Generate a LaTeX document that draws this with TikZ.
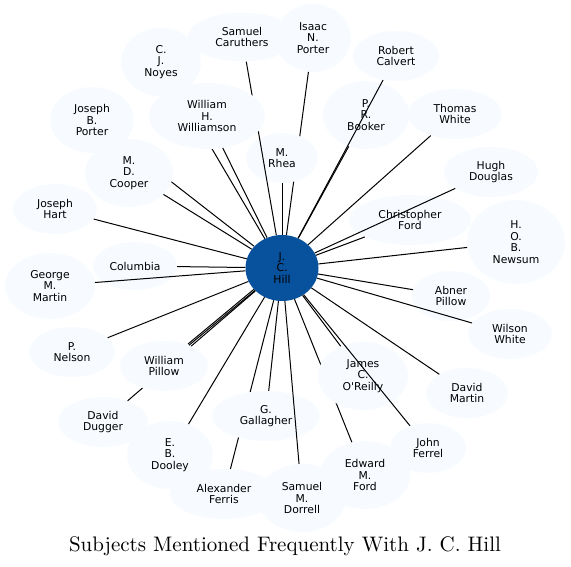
\documentclass[tikz,border=0pt]{standalone}
\usepackage{fontspec}
\newfontfamily\nodefont{DejaVu Sans}
\newfontfamily\titlefont{lmroman10-regular.otf}
\usetikzlibrary{shapes.geometric}
\definecolor{leaf}{HTML}{F7FBFF}
\definecolor{hub}{HTML}{08519C}
\begin{document}
\begin{tikzpicture}[x=1pt,y=-1pt,
  leafnode/.style={ellipse, fill=leaf, inner sep=0pt, align=center,
    font=\nodefont\fontsize{10.8}{11.7}\selectfont},
  link/.style={line width=1pt, black}]
\useasboundingbox (0,0) rectangle (571,567);
% ---- nodes drawn first
\node[leafnode, fill=hub, minimum width=73pt, minimum height=66pt] (hill) at (282,268) {J.\\C.\\Hill};
\node[leafnode, minimum width=108pt, minimum height=49pt] (caruthers) at (242,37) {Samuel\\Caruthers};
\node[leafnode, minimum width=80pt, minimum height=68pt] (noyes) at (161,62) {C.\\J.\\Noyes};
\node[leafnode, minimum width=76pt, minimum height=68pt] (iporter) at (313,38) {Isaac\\N.\\Porter};
\node[leafnode, minimum width=86pt, minimum height=50pt] (calvert) at (396,56) {Robert\\Calvert};
\node[leafnode, minimum width=84pt, minimum height=66pt] (jbporter) at (92,120) {Joseph\\B.\\Porter};
\node[leafnode, minimum width=86pt, minimum height=68pt] (booker) at (366,115) {P.\\R.\\Booker};
\node[leafnode, minimum width=94pt, minimum height=50pt] (twhite) at (455,114) {Thomas\\White};
\node[leafnode, minimum width=94pt, minimum height=50pt] (hdouglas) at (491,172) {Hugh\\Douglas};
\node[leafnode, minimum width=84pt, minimum height=50pt] (jhart) at (55,209) {Joseph\\Hart};
\node[leafnode, minimum width=122pt, minimum height=50pt] (cford) at (410,220) {Christopher\\Ford};
\node[leafnode, minimum width=98pt, minimum height=84pt] (newsum) at (516,242) {H.\\O.\\B.\\Newsum};
\node[leafnode, minimum width=84pt, minimum height=48pt] (columbia) at (135,266) {Columbia};
\node[leafnode, minimum width=90pt, minimum height=66pt] (gmartin) at (50,286) {George\\M.\\Martin};
\node[leafnode, minimum width=78pt, minimum height=50pt] (apillow) at (451,296) {Abner\\Pillow};
\node[leafnode, minimum width=84pt, minimum height=50pt] (wwhite) at (510,334) {Wilson\\White};
\node[leafnode, minimum width=86pt, minimum height=50pt] (pnelson) at (72,352) {P.\\Nelson};
\node[leafnode, minimum width=82pt, minimum height=50pt] (dmartin) at (467,393) {David\\Martin};
\node[leafnode, minimum width=90pt, minimum height=50pt] (dugger) at (103,422) {David\\Dugger};
\node[leafnode, minimum width=76pt, minimum height=50pt] (jferrel) at (428,448) {John\\Ferrel};
\node[leafnode, minimum width=86pt, minimum height=68pt] (dooley) at (170,455) {E.\\B.\\Dooley};
\node[leafnode, minimum width=90pt, minimum height=68pt] (eford) at (365,475) {Edward\\M.\\Ford};
\node[leafnode, minimum width=108pt, minimum height=50pt] (ferris) at (224,494) {Alexander\\Ferris};
\node[leafnode, minimum width=88pt, minimum height=68pt] (dorrell) at (302,498) {Samuel\\M.\\Dorrell};
% ---- edges that pass under later nodes, and plain edges
\foreach \t in {noyes,jbporter,iporter,dugger,ferris,eford,booker,twhite,jhart,cford,newsum,columbia,apillow,wwhite,pnelson,dmartin,dooley}
  \draw[link] (hill) -- (\t);
% ---- nodes that cover some edges
\node[leafnode, minimum width=72pt, minimum height=50pt] (rhea) at (282,158) {M.\\Rhea};
\node[leafnode, minimum width=88pt, minimum height=68pt] (cooper) at (129,173) {M.\\D.\\Cooper};
\node[leafnode, minimum width=88pt, minimum height=50pt] (wpillow) at (164,366) {William\\Pillow};
\node[leafnode, minimum width=90pt, minimum height=68pt] (oreilly) at (363,376) {James\\C.\\O'Reilly};
\node[leafnode, minimum width=108pt, minimum height=50pt] (gallagher) at (266,416) {G.\\Gallagher};
% ---- edges drawn over nodes
\foreach \t in {caruthers,calvert,hdouglas,gmartin,jferrel,dorrell,rhea,cooper,wpillow,oreilly,gallagher}
  \draw[link] (hill) -- (\t);
\draw[link, transform canvas={xshift=-1pt, yshift=1.2pt}] (hill) -- (wpillow);
% ---- last node
\node[leafnode, minimum width=116pt, minimum height=66pt] (williamson) at (207,116) {William\\H.\\Williamson};
\draw[link] (hill) -- (williamson);
% ---- title
\node (title) at (285,546) {\titlefont\fontsize{21}{25}\selectfont Subjects Mentioned Frequently With J. C. Hill};
\end{tikzpicture}
\end{document}
